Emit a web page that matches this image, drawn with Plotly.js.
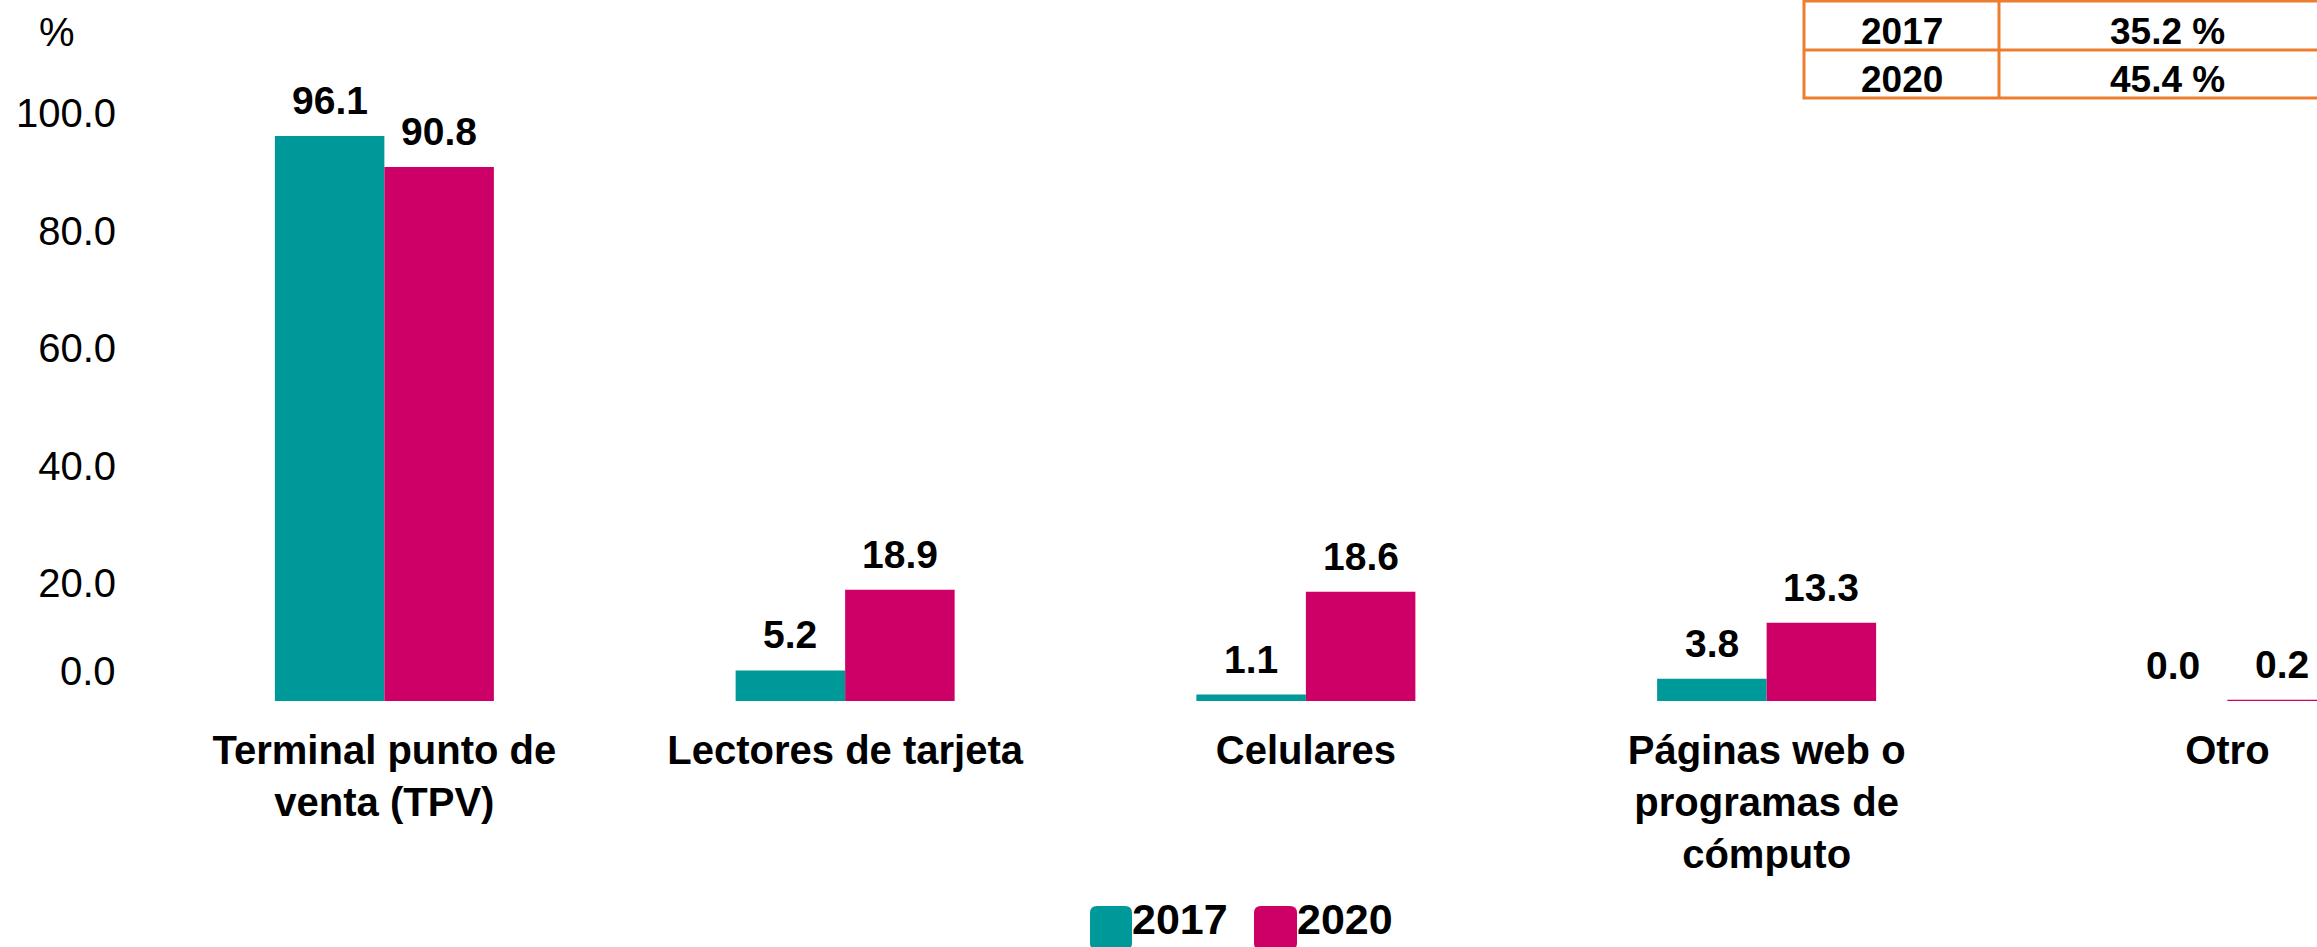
<!DOCTYPE html>
<html>
<head>
<meta charset="utf-8">
<script src="https://cdn.plot.ly/plotly-3.0.1.min.js"></script>
<style>
  html, body { margin: 0; padding: 0; background: #ffffff; }
  #chart { width: 2317px; height: 947px; }
</style>
</head>
<body>
<div id="chart"></div>
<script>
// ---- data ----
const categories = ['Terminal punto de venta (TPV)', 'Lectores de tarjeta', 'Celulares', 'Páginas web o programas de cómputo', 'Otro'];
const categoryLabels = ['Terminal punto de<br>venta (TPV)', 'Lectores de tarjeta', 'Celulares', 'Páginas web o<br>programas de<br>cómputo', 'Otro'];
const seriesNames = ['2017', '2020'];
const values2017 = [96.1, 5.2, 1.1, 3.8, 0.0];
const values2020 = [90.8, 18.9, 18.6, 13.3, 0.2];
const yTickVals = [20, 40, 60, 80, 100];
const tableYears = ['2017', '2020'];
const tableValues = ['35.2 %', '45.4 %'];

// ---- style ----
const FONT = 'Liberation Sans, Arial, sans-serif';
const TEAL = '#009999';
const MAGENTA = '#CC0066';
const ORANGE = '#ED7D31';

const W = 2317, H = 947;
const M = {l: 154, r: 0, t: 60, b: 246};
const PW = W - M.l - M.r, PH = H - M.t - M.b;
const catStep = 460.75;                 // px per category
const xMax = -0.5 + PW / catStep;
const pxPerUnit = 5.88;
const yMax = PH / pxPerUnit;
const halfBar = 54.75;

// pixel -> paper helpers (for decorations outside the plot)
const px2x = p => (p - M.l) / PW;
const py2y = p => (M.t + PH - p) / PH;

const traces = [
  {type: 'bar', name: seriesNames[0], x: categories, y: values2017,
   marker: {color: TEAL, line: {width: 0}}, hoverinfo: 'x+y+name'},
  {type: 'bar', name: seriesNames[1], x: categories, y: values2020,
   marker: {color: MAGENTA, line: {width: 0}}, hoverinfo: 'x+y+name'}
];

const annotations = [];
// data labels
[values2017, values2020].forEach((vals, s) => {
  vals.forEach((v, i) => {
    annotations.push({
      x: categories[i], y: v, xref: 'x', yref: 'y',
      xshift: s === 0 ? -halfBar : halfBar, yshift: 12,
      yanchor: 'bottom', xanchor: 'center', showarrow: false,
      text: v.toFixed(1),
      font: {family: FONT, size: 39, color: '#000000', weight: 'bold'}
    });
  });
});
// y-axis unit and the offset zero label
annotations.push({x: px2x(57), y: py2y(32), xref: 'paper', yref: 'paper', showarrow: false,
  text: '%', xanchor: 'center', yanchor: 'middle', font: {family: FONT, size: 40, color: '#000'}});
annotations.push({x: 0, y: 0, xref: 'paper', yref: 'y', xshift: -36, yshift: 30, showarrow: false,
  text: (0).toFixed(1), xanchor: 'right', yanchor: 'middle', font: {family: FONT, size: 40, color: '#000'}});

// table (partial, top right)
const tblRows = [[1, 50], [50, 98]];
tableYears.forEach((yr, r) => {
  const cy = (tblRows[r][0] + tblRows[r][1]) / 2 + 6;
  annotations.push({x: px2x(1902), y: py2y(cy), xref: 'paper', yref: 'paper', showarrow: false,
    text: '<b>' + yr + '</b>', xanchor: 'center', yanchor: 'middle', font: {family: FONT, size: 37, color: '#000'}});
  annotations.push({x: px2x(2167), y: py2y(cy), xref: 'paper', yref: 'paper', showarrow: false,
    text: '<b>' + tableValues[r] + '</b>', xanchor: 'center', yanchor: 'middle', font: {family: FONT, size: 37, color: '#000'}});
});

// custom legend
const legendItems = [
  {name: seriesNames[0], color: TEAL, x0: 1090, x1: 1132},
  {name: seriesNames[1], color: MAGENTA, x0: 1254, x1: 1297}
];
function roundRect(x0, y0, x1, y1, r) {
  const rx = r / PW, ry = r / PH;
  const X0 = px2x(x0), X1 = px2x(x1), Y0 = py2y(y0), Y1 = py2y(y1); // Y0 top, Y1 bottom
  return `M${X0 + rx},${Y0} L${X1 - rx},${Y0} Q${X1},${Y0} ${X1},${Y0 - ry} L${X1},${Y1 + ry} Q${X1},${Y1} ${X1 - rx},${Y1} L${X0 + rx},${Y1} Q${X0},${Y1} ${X0},${Y1 + ry} L${X0},${Y0 - ry} Q${X0},${Y0} ${X0 + rx},${Y0} Z`;
}
const shapes = [];
legendItems.forEach(it => {
  shapes.push({type: 'path', xref: 'paper', yref: 'paper', path: roundRect(it.x0, 906, it.x1, 950, 7),
    fillcolor: it.color, line: {width: 0}});
  annotations.push({x: px2x(it.x1 - 2), y: py2y(919), xref: 'paper', yref: 'paper', showarrow: false,
    text: '<b>' + it.name + '</b>', xanchor: 'left', yanchor: 'middle', font: {family: FONT, size: 43, color: '#000'}});
});

// table borders
const tl = {color: ORANGE, width: 3};
shapes.push({type: 'rect', xref: 'paper', yref: 'paper', x0: px2x(1804), x1: px2x(2345), y0: py2y(1), y1: py2y(98), line: tl, fillcolor: 'rgba(0,0,0,0)'});
shapes.push({type: 'line', xref: 'paper', yref: 'paper', x0: px2x(1804), x1: px2x(2345), y0: py2y(50), y1: py2y(50), line: tl});
shapes.push({type: 'line', xref: 'paper', yref: 'paper', x0: px2x(1999), x1: px2x(1999), y0: py2y(0), y1: py2y(98), line: tl});

const layout = {
  width: W, height: H,
  margin: M,
  paper_bgcolor: '#ffffff', plot_bgcolor: '#ffffff',
  font: {family: FONT, color: '#000000'},
  barmode: 'group', bargap: 1 - 219 / catStep, bargroupgap: 0,
  showlegend: false,
  xaxis: {
    type: 'category', range: [-0.5, xMax], tickvals: categories, ticktext: categoryLabels,
    tickfont: {family: FONT, size: 40, color: '#000', weight: 'bold'},
    showgrid: false, showline: false, zeroline: false, ticks: '', ticklabelstandoff: 22, fixedrange: true
  },
  yaxis: {
    range: [0, yMax], tickvals: yTickVals, tickformat: '.1f',
    tickfont: {family: FONT, size: 40, color: '#000'},
    showgrid: false, showline: false, zeroline: false, ticks: '', ticklabelstandoff: 37, fixedrange: true
  },
  annotations: annotations,
  shapes: shapes
};

Plotly.newPlot('chart', traces, layout, {displayModeBar: false, staticPlot: true});
</script>
</body>
</html>
